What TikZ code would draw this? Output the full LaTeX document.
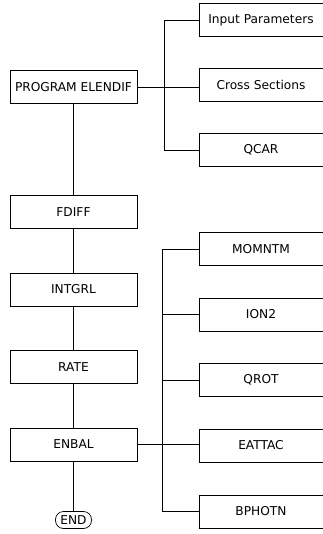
\documentclass[tikz,border=0pt]{standalone}
\usepackage{fontspec}
\setmainfont{DejaVu Sans}
\begin{document}
\begin{tikzpicture}[x=1pt,y=-1pt,line width=0.7pt]
\tikzset{
  boxfont/.style={font=\fontsize{12.2}{14}\selectfont},
  mainbox/.style={draw,boxfont,minimum width=127pt,minimum height=33pt,inner sep=0pt},
  subbox/.style={draw,boxfont,minimum width=124pt,minimum height=33pt,inner sep=0pt},
  endbox/.style={draw,boxfont,rounded corners=8pt,minimum width=36pt,minimum height=17pt,inner sep=0pt}
}
\useasboundingbox (0,0) rectangle (322,534);
% ================= main program chain =================
\node[mainbox] (prog) at (73.5,87) {PROGRAM ELENDIF};
\node[mainbox] (fdiff) at (73.5,212) {FDIFF};
\node[mainbox] (intgrl) at (73.5,289.5) {INTGRL};
\node[mainbox] (rate) at (73.5,367) {RATE};
\node[mainbox] (enbal) at (73.5,444.5) {ENBAL};
\node[endbox] (end) at (73.5,520) {END};
\foreach \a/\b in {prog/fdiff,fdiff/intgrl,intgrl/rate,rate/enbal,enbal/end}
  \draw (\a.south) -- (\b.north);
% ================= upper branch =================
\node[subbox] (inp) at (261,20) {Input Parameters};
\node[subbox] (cross) at (261,84.5) {Cross Sections};
\node[subbox] (qcar) at (261,150) {QCAR};
\coordinate (busA) at (164,0);
\draw (inp.west) -- (inp.west -| busA) -- (qcar.west -| busA) -- (qcar.west);
\draw (prog.east) -- (prog.east -| cross.west);
% ================= lower branch =================
\foreach \n/\t/\y in {mom/MOMNTM/249,ion/ION2/314.5,qrot/QROT/380,eattac/EATTAC/445.5,bphotn/BPHOTN/511.5}
  \node[subbox] (\n) at (261,\y) {\t};
\coordinate (busB) at (162,0);
\draw (mom.west) -- (mom.west -| busB) -- (bphotn.west -| busB) -- (bphotn.west);
\foreach \n in {ion,qrot}
  \draw (\n.west) -- (\n.west -| busB);
\draw (enbal.east) -- (enbal.east -| eattac.west);
\end{tikzpicture}
\end{document}
